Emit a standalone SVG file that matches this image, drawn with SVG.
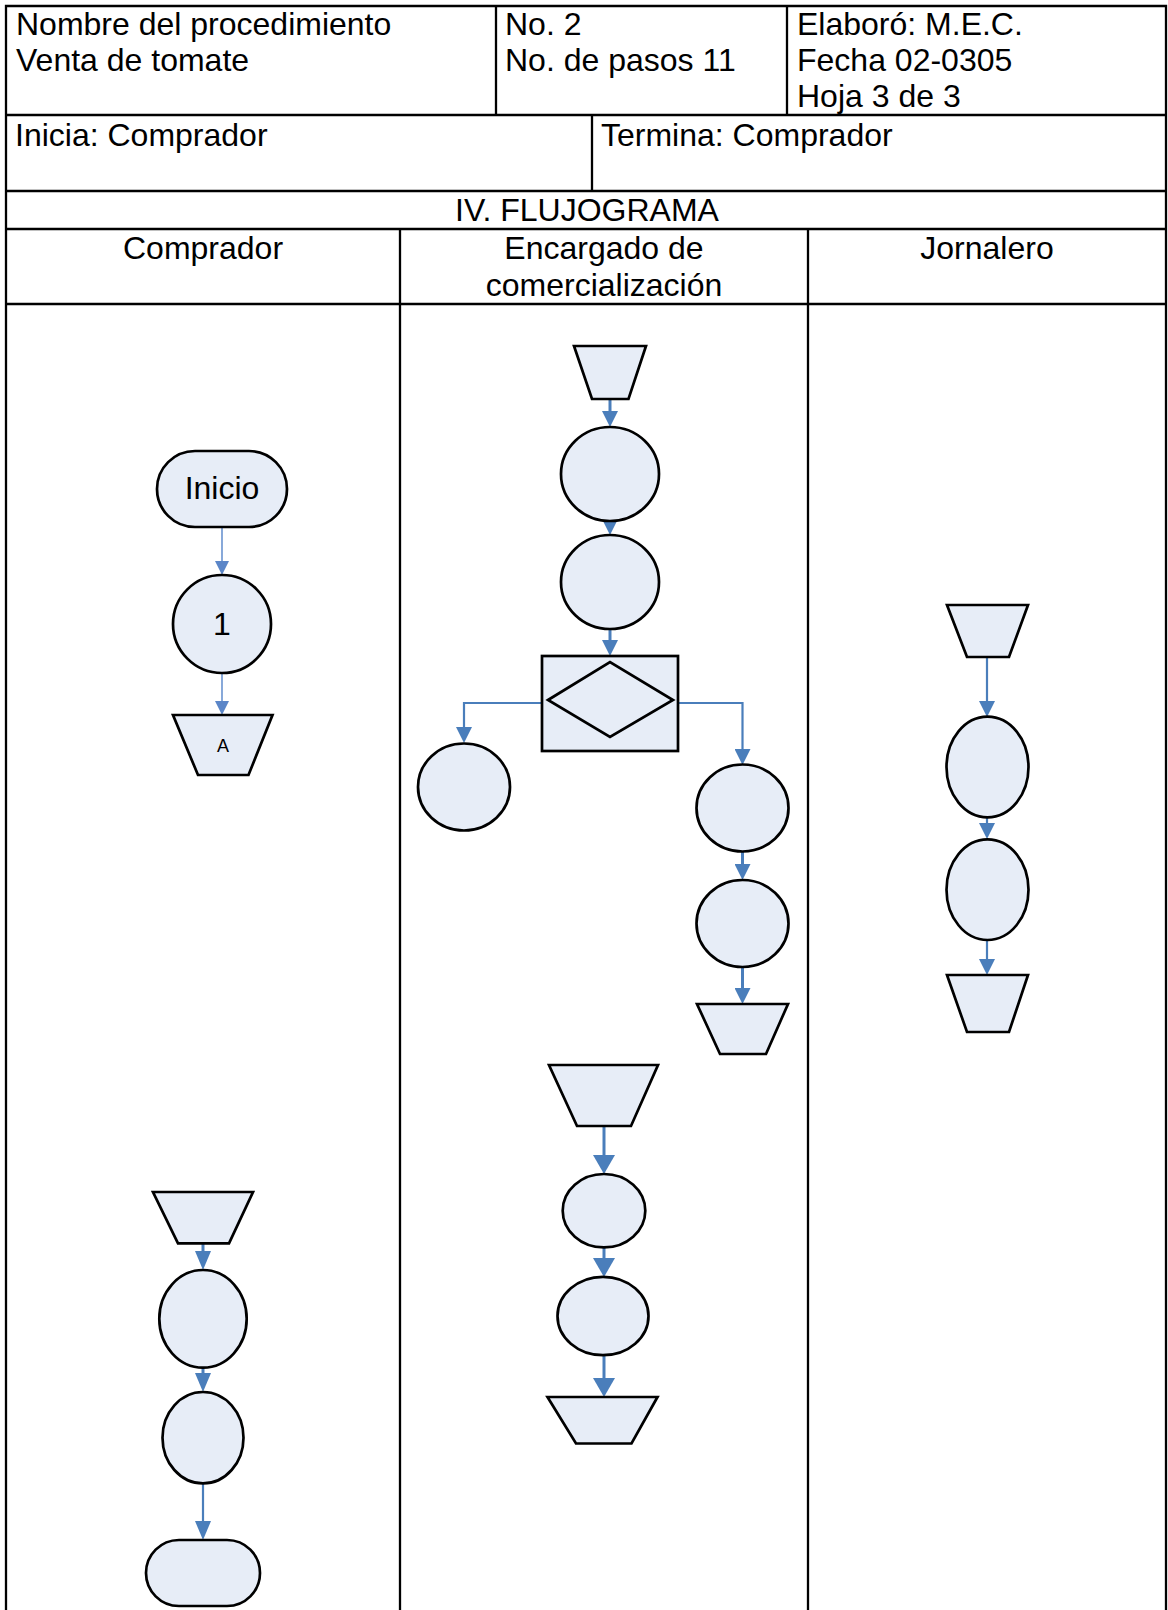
<svg xmlns="http://www.w3.org/2000/svg" width="1168" height="1610" viewBox="0 0 1168 1610">
<style>
.t{font-family:"Liberation Sans",Arial,sans-serif;font-size:32px;fill:#000}
.c{text-anchor:middle}
.grid{stroke:#000;stroke-width:2.3;fill:none}
.n{fill:#e7edf7;stroke:#000;stroke-width:2.7}
.k{fill:none;stroke:#4a7ebb;stroke-width:3}
.kl{fill:none;stroke:#6a93d0;stroke-width:1.6}
.k2{fill:none;stroke:#4a7ebb;stroke-width:2.2}
</style>
<defs>
<marker id="aS" markerUnits="userSpaceOnUse" markerWidth="14" markerHeight="14" refX="3" refY="7" orient="auto"><path d="M0,0 L14,7 L0,14 Z" fill="#5b86c8"/></marker>
<marker id="aM" markerUnits="userSpaceOnUse" markerWidth="16" markerHeight="16" refX="3" refY="8" orient="auto"><path d="M0,0 L16,8 L0,16 Z" fill="#4a7ebb"/></marker>
<marker id="aE" markerUnits="userSpaceOnUse" markerWidth="19" markerHeight="16" refX="3" refY="8" orient="auto"><path d="M0,0 L19,8 L0,16 Z" fill="#4a7ebb"/></marker>
<marker id="aL" markerUnits="userSpaceOnUse" markerWidth="19" markerHeight="22" refX="3" refY="11" orient="auto"><path d="M0,0 L19,11 L0,22 Z" fill="#4a7ebb"/></marker>
</defs>
<rect width="1168" height="1610" fill="#fff"/>
<g id="table">
<path class="grid" d="M6,1610 V6 H1166 V1610"/>
<path class="grid" d="M6,115 H1166 M6,191 H1166 M6,229 H1166 M6,304 H1166"/>
<path class="grid" d="M496,6 V115 M787,6 V115 M592,115 V191 M400,229 V1610 M808,229 V1610"/>
<text class="t" x="16" y="35">Nombre del procedimiento</text>
<text class="t" x="16" y="71">Venta de tomate</text>
<text class="t" x="505" y="35">No. 2</text>
<text class="t" x="505" y="71">No. de pasos 11</text>
<text class="t" x="797" y="35">Elaboró: M.E.C.</text>
<text class="t" x="797" y="71">Fecha 02-0305</text>
<text class="t" x="797" y="107">Hoja 3 de 3</text>
<text class="t" x="15" y="146">Inicia: Comprador</text>
<text class="t" x="601" y="146">Termina: Comprador</text>
<text class="t c" x="587" y="221">IV. FLUJOGRAMA</text>
<text class="t c" x="203" y="259">Comprador</text>
<text class="t c" x="604" y="259">Encargado de</text>
<text class="t c" x="604" y="296">comercialización</text>
<text class="t c" x="987" y="259">Jornalero</text>
</g>
<g id="connectors">
<path class="kl" d="M222,527 V564" marker-end="url(#aS)"/>
<path class="kl" d="M222,673 V704" marker-end="url(#aS)"/>
<path class="k" d="M610,399 V414" marker-end="url(#aM)"/>
<path class="k" d="M610,518 V522" marker-end="url(#aM)"/>
<path class="k" d="M610,629 V643" marker-end="url(#aM)"/>
<path class="k2" d="M542,703 H464 V730" marker-end="url(#aM)"/>
<path class="k2" d="M678,703 H742.5 V752" marker-end="url(#aM)"/>
<path class="k" d="M742.5,852 V867" marker-end="url(#aM)"/>
<path class="k" d="M742.5,967 V991" marker-end="url(#aM)"/>
<path class="k2" d="M987,657 V704" marker-end="url(#aM)"/>
<path class="k2" d="M987,817 V826" marker-end="url(#aM)"/>
<path class="k2" d="M987,940 V962" marker-end="url(#aM)"/>
<path class="k" d="M604,1126 V1158" marker-end="url(#aL)"/>
<path class="k" d="M604,1247 V1261" marker-end="url(#aL)"/>
<path class="k" d="M604,1355 V1381" marker-end="url(#aL)"/>
<path class="k" d="M203,1243 V1254" marker-end="url(#aE)"/>
<path class="k" d="M203,1367 V1376" marker-end="url(#aE)"/>
<path class="k2" d="M203,1483 V1524" marker-end="url(#aE)"/>
</g>
<g id="inicio"><rect class="n" x="157" y="451" width="130" height="76" rx="38"/><text class="t c" x="222" y="499">Inicio</text></g>
<g id="op1"><circle class="n" cx="222" cy="624" r="49"/><text class="t c" x="222" y="635">1</text></g>
<g id="conA"><path class="n" d="M173,715 H272.5 L248.5,775 H198 Z"/><text x="223" y="752" font-family="Liberation Sans, Arial, sans-serif" font-size="18" text-anchor="middle">A</text></g>
<g id="e-in"><path class="n" d="M574,346 H646 L628.5,399 H592 Z"/></g>
<g id="e-op1"><ellipse class="n" cx="610" cy="474" rx="49" ry="47"/></g>
<g id="e-op2"><ellipse class="n" cx="610" cy="582" rx="49" ry="47"/></g>
<g id="e-dec"><rect class="n" x="542" y="656" width="136" height="95"/><path class="n" d="M548,700 L610,662 L673,700 L610,737 Z"/></g>
<g id="e-left"><ellipse class="n" cx="464" cy="787" rx="46" ry="43.5"/></g>
<g id="e-r1"><ellipse class="n" cx="742.5" cy="808" rx="46" ry="43.5"/></g>
<g id="e-r2"><ellipse class="n" cx="742.5" cy="923.5" rx="46" ry="43.5"/></g>
<g id="e-rout"><path class="n" d="M697,1004 H788 L766,1054 H720 Z"/></g>
<g id="j-in"><path class="n" d="M947,605 H1028 L1009,657 H967 Z"/></g>
<g id="j-op1"><ellipse class="n" cx="987.5" cy="767" rx="41" ry="50.3"/></g>
<g id="j-op2"><ellipse class="n" cx="987.5" cy="889.7" rx="41" ry="50.3"/></g>
<g id="j-out"><path class="n" d="M947,975 H1028 L1009,1032 H967 Z"/></g>
<g id="e2-in"><path class="n" d="M549,1065 H658 L631,1126 H577 Z"/></g>
<g id="e2-op1"><ellipse class="n" cx="604" cy="1210.7" rx="41.3" ry="36.7"/></g>
<g id="e2-op2"><ellipse class="n" cx="603" cy="1316" rx="45.5" ry="39.2"/></g>
<g id="e2-out"><path class="n" d="M547.5,1397 H657.5 L631.5,1443.5 H576 Z"/></g>
<g id="c2-in"><path class="n" d="M153,1192 H253 L229,1243.3 H178 Z"/></g>
<g id="c2-op1"><ellipse class="n" cx="203" cy="1318.8" rx="43.7" ry="48.8"/></g>
<g id="c2-op2"><ellipse class="n" cx="203" cy="1437.7" rx="40.5" ry="45.7"/></g>
<g id="fin"><rect class="n" x="146" y="1540" width="114" height="66" rx="33"/></g>
</svg>
